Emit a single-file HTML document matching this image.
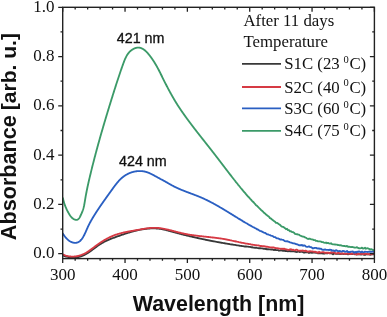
<!DOCTYPE html>
<html><head><meta charset="utf-8"><style>
html,body{margin:0;padding:0;background:#fff;width:387px;height:317px;overflow:hidden}
svg{display:block;will-change:transform}
text{fill:#111;stroke:#111;stroke-width:0}
.tl{font-family:"Liberation Serif",serif;font-size:17px}
.at{font-family:"Liberation Sans",sans-serif;font-weight:bold;font-size:21.4px}
.an{font-family:"Liberation Sans",sans-serif;font-size:14.3px;stroke-width:0.3px}
.lg{font-family:"Liberation Serif",serif;font-size:16.8px}
.sup{font-family:"Liberation Serif",serif;font-size:10.5px}
</style></head><body>
<svg width="387" height="317" viewBox="0 0 387 317">
<rect x="0" y="0" width="387" height="317" fill="#fff"/>
<defs><clipPath id="c"><rect x="62.7" y="7.3" width="311.7" height="251.3"/></clipPath></defs>
<g clip-path="url(#c)" fill="none" stroke-width="1.85" stroke-linejoin="round" stroke-linecap="round">
<path d="M62.75,255.36 L63.37,255.62 L63.98,255.86 L64.60,256.09 L65.23,256.30 L65.86,256.49 L66.49,256.67 L67.12,256.83 L67.76,256.97 L68.40,257.10 L69.04,257.22 L69.68,257.31 L70.32,257.40 L70.97,257.46 L71.61,257.51 L72.25,257.54 L72.90,257.56 L73.54,257.56 L74.18,257.55 L74.82,257.52 L75.45,257.47 L76.09,257.41 L76.72,257.33 L77.34,257.23 L77.97,257.12 L78.59,257.00 L79.20,256.85 L79.81,256.69 L80.42,256.52 L81.02,256.32 L81.61,256.11 L82.20,255.89 L82.78,255.65 L83.35,255.40 L83.93,255.13 L84.49,254.85 L85.06,254.56 L85.61,254.26 L86.17,253.95 L86.72,253.62 L87.27,253.29 L87.81,252.95 L88.35,252.60 L88.89,252.25 L89.43,251.88 L89.96,251.51 L90.49,251.14 L91.02,250.76 L91.55,250.38 L92.08,249.99 L92.61,249.61 L93.13,249.22 L93.66,248.82 L94.18,248.43 L94.71,248.04 L95.23,247.65 L95.76,247.26 L96.29,246.88 L96.82,246.49 L97.34,246.11 L97.88,245.73 L98.41,245.36 L98.94,245.00 L99.48,244.64 L100.02,244.29 L100.56,243.94 L101.11,243.61 L101.65,243.28 L102.20,242.96 L102.76,242.65 L103.32,242.34 L103.88,242.04 L104.44,241.75 L105.00,241.47 L105.57,241.19 L106.14,240.92 L106.72,240.65 L107.29,240.39 L107.87,240.14 L108.45,239.89 L109.03,239.64 L109.61,239.40 L110.20,239.16 L110.79,238.92 L111.38,238.69 L111.97,238.46 L112.57,238.23 L113.16,238.00 L113.76,237.78 L114.36,237.56 L114.96,237.34 L115.56,237.12 L116.16,236.89 L116.77,236.68 L117.38,236.46 L117.98,236.24 L118.59,236.02 L119.20,235.80 L119.81,235.58 L120.42,235.37 L121.04,235.16 L121.65,234.94 L122.27,234.73 L122.88,234.52 L123.50,234.31 L124.12,234.10 L124.74,233.90 L125.36,233.70 L125.98,233.49 L126.60,233.29 L127.23,233.10 L127.85,232.90 L128.47,232.71 L129.10,232.52 L129.73,232.33 L130.35,232.15 L130.98,231.97 L131.61,231.79 L132.24,231.62 L132.87,231.45 L133.49,231.28 L134.12,231.11 L134.76,230.95 L135.39,230.79 L136.02,230.64 L136.65,230.49 L137.28,230.35 L137.91,230.20 L138.55,230.07 L139.18,229.93 L139.81,229.81 L140.44,229.68 L141.08,229.57 L141.71,229.45 L142.35,229.34 L142.98,229.24 L143.61,229.14 L144.25,229.05 L144.88,228.96 L145.51,228.88 L146.15,228.80 L146.78,228.73 L147.41,228.67 L148.05,228.61 L148.68,228.55 L149.31,228.51 L149.94,228.47 L150.58,228.44 L151.21,228.41 L151.84,228.39 L152.47,228.38 L153.10,228.37 L153.73,228.37 L154.36,228.38 L154.99,228.40 L155.62,228.42 L156.25,228.46 L156.88,228.50 L157.51,228.54 L158.14,228.60 L158.76,228.66 L159.39,228.74 L160.02,228.82 L160.64,228.91 L161.27,229.01 L161.89,229.12 L162.52,229.23 L163.14,229.36 L163.76,229.49 L164.38,229.63 L165.01,229.78 L165.63,229.93 L166.25,230.09 L166.87,230.25 L167.49,230.42 L168.11,230.58 L168.73,230.76 L169.35,230.93 L169.97,231.10 L170.59,231.27 L171.22,231.45 L171.84,231.62 L172.46,231.79 L173.08,231.96 L173.70,232.13 L174.32,232.30 L174.94,232.47 L175.57,232.64 L176.19,232.80 L176.81,232.97 L177.43,233.13 L178.06,233.30 L178.68,233.46 L179.30,233.62 L179.93,233.78 L180.55,233.94 L181.17,234.10 L181.80,234.26 L182.42,234.42 L183.05,234.58 L183.67,234.73 L184.29,234.89 L184.92,235.04 L185.54,235.20 L186.17,235.35 L186.79,235.50 L187.42,235.66 L188.04,235.81 L188.67,235.96 L189.30,236.11 L189.92,236.26 L190.55,236.40 L191.17,236.55 L191.80,236.70 L192.43,236.84 L193.05,236.99 L193.68,237.13 L194.31,237.27 L194.93,237.42 L195.56,237.56 L196.19,237.70 L196.81,237.84 L197.44,237.98 L198.07,238.12 L198.70,238.25 L199.33,238.39 L199.95,238.53 L200.58,238.66 L201.21,238.80 L201.84,238.93 L202.47,239.07 L203.10,239.20 L203.73,239.33 L204.36,239.46 L204.98,239.59 L205.61,239.72 L206.24,239.85 L206.87,239.98 L207.50,240.11 L208.13,240.23 L208.76,240.36 L209.39,240.48 L210.02,240.61 L210.65,240.73 L211.29,240.86 L211.92,240.98 L212.55,241.10 L213.18,241.22 L213.81,241.34 L214.44,241.46 L215.07,241.58 L215.70,241.70 L216.33,241.82 L216.97,241.93 L217.60,242.05 L218.23,242.16 L218.86,242.28 L219.49,242.39 L220.13,242.51 L220.76,242.62 L221.39,242.73 L222.02,242.84 L222.66,242.95 L223.29,243.06 L223.92,243.17 L224.56,243.28 L225.19,243.39 L225.82,243.50 L226.46,243.60 L227.09,243.71 L227.72,243.81 L228.36,243.92 L228.99,244.02 L229.63,244.13 L230.00,244.23 L231.00,244.35 L232.00,244.50 L233.00,244.65 L234.00,244.81 L235.00,244.95 L236.00,245.13 L237.00,245.32 L238.00,245.41 L239.00,245.55 L240.00,245.74 L241.00,245.88 L242.00,246.01 L243.00,246.10 L244.00,246.29 L245.00,246.47 L246.00,246.47 L247.00,246.67 L248.00,246.69 L249.00,246.86 L250.00,246.94 L251.00,247.21 L252.00,247.23 L253.00,247.51 L254.00,247.62 L255.00,247.71 L256.00,247.57 L257.00,247.91 L258.00,248.09 L259.00,248.23 L260.00,248.13 L261.00,248.38 L262.00,248.42 L263.00,248.55 L264.00,248.94 L265.00,248.77 L266.00,248.99 L267.00,249.25 L268.00,249.11 L269.00,249.30 L270.00,249.44 L271.00,249.53 L272.00,249.39 L273.00,249.73 L274.00,250.08 L275.00,249.61 L276.00,250.18 L277.00,250.13 L278.00,250.06 L279.00,250.71 L280.00,250.54 L281.00,250.20 L282.00,250.57 L283.00,250.77 L284.00,250.68 L285.00,250.97 L286.00,250.87 L287.00,251.14 L288.00,251.42 L289.00,250.96 L290.00,251.26 L291.00,251.16 L292.00,251.40 L293.00,251.11 L294.00,251.35 L295.00,251.53 L296.00,251.92 L297.00,252.06 L298.00,251.40 L299.00,251.63 L300.00,252.13 L301.00,251.38 L302.00,251.92 L303.00,252.10 L304.00,252.60 L305.00,252.48 L306.00,252.21 L307.00,252.25 L308.00,252.35 L309.00,253.02 L310.00,252.40 L311.00,252.50 L312.00,252.78 L313.00,252.67 L314.00,252.70 L315.00,252.43 L316.00,252.87 L317.00,252.76 L318.00,253.38 L319.00,253.25 L320.00,253.06 L321.00,253.35 L322.00,253.04 L323.00,253.57 L324.00,253.24 L325.00,253.49 L326.00,252.88 L327.00,253.49 L328.00,252.82 L329.00,252.74 L330.00,253.39 L331.00,253.22 L332.00,253.62 L333.00,254.39 L334.00,253.35 L335.00,253.46 L336.00,253.78 L337.00,253.91 L338.00,253.71 L339.00,253.73 L340.00,254.08 L341.00,254.05 L342.00,253.53 L343.00,253.90 L344.00,253.96 L345.00,253.61 L346.00,254.10 L347.00,253.73 L348.00,254.40 L349.00,254.15 L350.00,254.14 L351.00,253.92 L352.00,254.11 L353.00,253.47 L354.00,253.80 L355.00,254.34 L356.00,253.49 L357.00,254.55 L358.00,253.66 L359.00,254.55 L360.00,254.01 L361.00,254.59 L362.00,254.38 L363.00,253.82 L364.00,254.81 L365.00,254.89 L366.00,254.37 L367.00,254.31 L368.00,254.37 L369.00,254.09 L370.00,254.83 L371.00,254.27 L372.00,254.45 L373.00,254.20 L374.00,254.27 L375.00,254.04" stroke="#383838"/>
<path d="M62.75,254.42 L63.38,254.70 L64.00,254.95 L64.63,255.19 L65.27,255.41 L65.90,255.61 L66.53,255.78 L67.17,255.94 L67.80,256.09 L68.44,256.21 L69.08,256.31 L69.72,256.40 L70.35,256.47 L70.99,256.52 L71.63,256.55 L72.26,256.57 L72.90,256.57 L73.53,256.55 L74.16,256.52 L74.79,256.46 L75.42,256.40 L76.04,256.32 L76.67,256.22 L77.29,256.11 L77.91,255.98 L78.52,255.84 L79.14,255.68 L79.75,255.51 L80.35,255.32 L80.95,255.12 L81.55,254.91 L82.14,254.68 L82.73,254.44 L83.32,254.18 L83.90,253.92 L84.47,253.64 L85.04,253.34 L85.60,253.04 L86.16,252.72 L86.71,252.40 L87.26,252.06 L87.80,251.71 L88.34,251.36 L88.88,251.00 L89.41,250.63 L89.94,250.25 L90.47,249.87 L91.00,249.48 L91.52,249.09 L92.04,248.70 L92.56,248.31 L93.09,247.91 L93.61,247.52 L94.13,247.12 L94.65,246.72 L95.17,246.33 L95.70,245.94 L96.22,245.55 L96.75,245.17 L97.28,244.79 L97.81,244.41 L98.34,244.03 L98.87,243.66 L99.41,243.29 L99.95,242.93 L100.49,242.57 L101.03,242.21 L101.57,241.86 L102.11,241.51 L102.66,241.17 L103.21,240.83 L103.76,240.49 L104.31,240.16 L104.87,239.84 L105.42,239.52 L105.98,239.20 L106.54,238.89 L107.10,238.59 L107.67,238.29 L108.23,238.00 L108.80,237.71 L109.38,237.43 L109.95,237.15 L110.53,236.88 L111.10,236.62 L111.68,236.36 L112.27,236.11 L112.85,235.86 L113.44,235.62 L114.03,235.39 L114.63,235.17 L115.22,234.95 L115.82,234.74 L116.42,234.53 L117.02,234.34 L117.63,234.14 L118.24,233.96 L118.85,233.78 L119.46,233.60 L120.07,233.44 L120.69,233.27 L121.31,233.11 L121.92,232.96 L122.54,232.81 L123.17,232.66 L123.79,232.52 L124.42,232.38 L125.04,232.25 L125.67,232.11 L126.30,231.98 L126.93,231.86 L127.56,231.73 L128.19,231.61 L128.82,231.49 L129.45,231.37 L130.08,231.25 L130.72,231.14 L131.35,231.02 L131.98,230.91 L132.62,230.79 L133.25,230.68 L133.88,230.57 L134.52,230.45 L135.15,230.34 L135.79,230.23 L136.42,230.12 L137.06,230.01 L137.69,229.90 L138.33,229.79 L138.96,229.68 L139.60,229.57 L140.24,229.46 L140.87,229.34 L141.51,229.23 L142.14,229.12 L142.78,229.02 L143.41,228.91 L144.05,228.80 L144.69,228.70 L145.32,228.60 L145.96,228.51 L146.60,228.42 L147.23,228.33 L147.87,228.25 L148.51,228.18 L149.15,228.11 L149.79,228.04 L150.42,227.99 L151.06,227.94 L151.70,227.90 L152.34,227.86 L152.98,227.84 L153.62,227.82 L154.25,227.81 L154.89,227.82 L155.53,227.83 L156.17,227.85 L156.81,227.89 L157.44,227.93 L158.08,227.98 L158.72,228.04 L159.36,228.11 L159.99,228.19 L160.63,228.27 L161.26,228.36 L161.90,228.46 L162.53,228.57 L163.17,228.68 L163.80,228.79 L164.43,228.92 L165.06,229.04 L165.70,229.17 L166.33,229.31 L166.96,229.45 L167.58,229.59 L168.21,229.74 L168.84,229.89 L169.47,230.04 L170.09,230.20 L170.72,230.35 L171.35,230.51 L171.97,230.67 L172.60,230.83 L173.22,231.00 L173.84,231.16 L174.47,231.32 L175.09,231.49 L175.72,231.65 L176.34,231.81 L176.96,231.97 L177.59,232.14 L178.21,232.30 L178.83,232.45 L179.46,232.61 L180.08,232.76 L180.71,232.92 L181.33,233.07 L181.96,233.21 L182.59,233.36 L183.21,233.50 L183.84,233.63 L184.47,233.77 L185.10,233.89 L185.73,234.02 L186.36,234.14 L186.99,234.26 L187.62,234.37 L188.25,234.49 L188.88,234.59 L189.52,234.70 L190.15,234.80 L190.78,234.90 L191.42,235.00 L192.05,235.10 L192.69,235.19 L193.32,235.28 L193.96,235.37 L194.59,235.45 L195.23,235.54 L195.87,235.62 L196.50,235.70 L197.14,235.78 L197.78,235.86 L198.41,235.93 L199.05,236.01 L199.69,236.08 L200.33,236.15 L200.97,236.22 L201.61,236.29 L202.24,236.36 L202.88,236.43 L203.52,236.50 L204.16,236.57 L204.80,236.64 L205.44,236.70 L206.08,236.77 L206.72,236.84 L207.36,236.90 L208.00,236.97 L208.64,237.04 L209.27,237.11 L209.91,237.18 L210.55,237.24 L211.19,237.31 L211.83,237.38 L212.47,237.46 L213.11,237.53 L213.75,237.60 L214.38,237.68 L215.02,237.75 L215.66,237.83 L216.30,237.91 L216.93,237.99 L217.57,238.07 L218.21,238.16 L218.84,238.24 L219.48,238.33 L220.11,238.42 L220.75,238.52 L221.38,238.61 L222.02,238.71 L222.65,238.81 L223.29,238.92 L223.92,239.02 L224.55,239.13 L225.18,239.24 L225.82,239.36 L226.45,239.48 L227.08,239.60 L227.71,239.72 L228.34,239.85 L228.97,239.98 L229.60,240.11 L230.00,240.24 L231.00,240.40 L232.00,240.63 L233.00,240.83 L234.00,241.04 L235.00,241.26 L236.00,241.48 L237.00,241.71 L238.00,241.91 L239.00,242.13 L240.00,242.29 L241.00,242.52 L242.00,242.84 L243.00,242.92 L244.00,243.08 L245.00,243.36 L246.00,243.62 L247.00,243.59 L248.00,243.86 L249.00,244.00 L250.00,244.07 L251.00,244.46 L252.00,244.55 L253.00,244.72 L254.00,244.80 L255.00,245.08 L256.00,245.13 L257.00,245.32 L258.00,245.35 L259.00,245.48 L260.00,245.96 L261.00,245.86 L262.00,246.11 L263.00,246.21 L264.00,246.29 L265.00,246.42 L266.00,246.74 L267.00,246.73 L268.00,246.89 L269.00,247.05 L270.00,247.39 L271.00,247.44 L272.00,247.52 L273.00,247.47 L274.00,247.44 L275.00,248.02 L276.00,248.16 L277.00,248.06 L278.00,248.33 L279.00,248.51 L280.00,248.64 L281.00,248.79 L282.00,248.60 L283.00,249.17 L284.00,248.64 L285.00,249.26 L286.00,249.29 L287.00,249.50 L288.00,249.87 L289.00,249.89 L290.00,249.32 L291.00,249.27 L292.00,250.05 L293.00,249.66 L294.00,250.04 L295.00,250.39 L296.00,249.77 L297.00,249.73 L298.00,250.53 L299.00,250.56 L300.00,250.57 L301.00,250.75 L302.00,250.56 L303.00,250.45 L304.00,250.97 L305.00,250.79 L306.00,250.65 L307.00,251.46 L308.00,251.35 L309.00,251.60 L310.00,251.20 L311.00,251.40 L312.00,251.36 L313.00,251.48 L314.00,251.93 L315.00,251.67 L316.00,252.14 L317.00,252.21 L318.00,252.87 L319.00,251.75 L320.00,252.62 L321.00,252.34 L322.00,252.44 L323.00,252.00 L324.00,252.41 L325.00,252.90 L326.00,252.67 L327.00,252.79 L328.00,252.72 L329.00,253.28 L330.00,252.92 L331.00,252.22 L332.00,252.80 L333.00,252.40 L334.00,252.00 L335.00,253.00 L336.00,253.70 L337.00,253.30 L338.00,252.92 L339.00,253.04 L340.00,253.81 L341.00,253.51 L342.00,253.51 L343.00,253.51 L344.00,253.57 L345.00,253.88 L346.00,253.82 L347.00,253.73 L348.00,253.32 L349.00,253.89 L350.00,253.50 L351.00,254.15 L352.00,253.34 L353.00,253.76 L354.00,253.83 L355.00,253.38 L356.00,254.47 L357.00,254.39 L358.00,253.73 L359.00,254.18 L360.00,254.05 L361.00,253.01 L362.00,254.02 L363.00,253.92 L364.00,253.97 L365.00,253.57 L366.00,253.85 L367.00,253.88 L368.00,254.36 L369.00,254.06 L370.00,253.93 L371.00,254.46 L372.00,253.72 L373.00,253.77 L374.00,253.26 L375.00,254.44" stroke="#d63a44"/>
<path d="M62.50,233.67 L62.75,233.67 L63.00,233.74 L63.25,234.15 L63.50,234.54 L63.75,234.92 L64.00,235.29 L64.25,235.65 L64.50,236.00 L64.75,236.33 L65.00,236.66 L65.25,236.97 L65.50,237.28 L65.75,237.58 L66.00,237.87 L66.25,238.15 L66.50,238.42 L66.75,238.68 L67.00,238.93 L67.25,239.18 L67.50,239.41 L67.75,239.64 L68.00,239.86 L68.25,240.07 L68.50,240.27 L68.75,240.47 L69.00,240.65 L69.25,240.83 L69.50,241.00 L69.75,241.16 L70.00,241.31 L70.25,241.45 L70.50,241.59 L70.75,241.72 L71.00,241.84 L71.25,241.95 L71.50,242.06 L71.75,242.16 L72.00,242.26 L72.25,242.34 L72.50,242.42 L72.75,242.50 L73.00,242.56 L73.25,242.62 L73.50,242.68 L73.75,242.72 L74.00,242.76 L74.25,242.80 L74.50,242.82 L74.75,242.84 L75.00,242.85 L75.25,242.86 L75.50,242.85 L75.75,242.84 L76.00,242.82 L76.25,242.78 L76.50,242.74 L76.75,242.69 L77.00,242.63 L77.25,242.56 L77.50,242.48 L77.75,242.38 L78.00,242.28 L78.25,242.16 L78.50,242.03 L78.75,241.89 L79.00,241.73 L79.25,241.57 L79.50,241.38 L79.75,241.19 L80.00,240.98 L80.25,240.75 L80.50,240.51 L80.75,240.26 L81.00,239.99 L81.25,239.70 L81.50,239.40 L81.75,239.08 L82.00,238.74 L82.25,238.39 L82.50,238.02 L82.75,237.64 L83.00,237.23 L83.25,236.81 L83.50,236.38 L83.75,235.92 L84.00,235.45 L84.25,234.97 L84.50,234.47 L84.75,233.95 L85.00,233.43 L85.25,232.89 L85.50,232.34 L85.75,231.78 L86.00,231.21 L86.25,230.64 L86.50,230.07 L86.75,229.49 L87.00,228.92 L87.25,228.35 L87.50,227.78 L87.75,227.23 L88.00,226.68 L88.25,226.15 L88.50,225.62 L88.75,225.11 L89.00,224.61 L89.25,224.11 L89.50,223.62 L89.75,223.15 L90.00,222.67 L90.25,222.21 L90.50,221.75 L90.75,221.30 L91.00,220.85 L91.25,220.41 L91.50,219.97 L91.75,219.54 L92.00,219.11 L92.25,218.68 L92.50,218.25 L92.75,217.83 L93.00,217.42 L93.25,217.00 L93.50,216.59 L93.75,216.18 L94.00,215.77 L94.25,215.37 L94.50,214.96 L94.75,214.56 L95.00,214.17 L95.25,213.77 L95.50,213.38 L95.75,212.99 L96.00,212.60 L96.25,212.21 L96.50,211.82 L96.75,211.44 L97.00,211.05 L97.25,210.67 L97.50,210.29 L97.75,209.92 L98.00,209.54 L98.25,209.16 L98.50,208.79 L98.75,208.42 L99.00,208.05 L99.25,207.68 L99.50,207.31 L99.75,206.94 L100.00,206.57 L100.25,206.21 L100.50,205.84 L100.75,205.48 L101.00,205.12 L101.25,204.76 L101.50,204.40 L101.75,204.04 L102.00,203.68 L102.25,203.32 L102.50,202.96 L102.75,202.60 L103.00,202.25 L103.25,201.89 L103.50,201.54 L103.75,201.18 L104.00,200.83 L104.25,200.47 L104.50,200.12 L104.75,199.77 L105.00,199.42 L105.25,199.06 L105.50,198.71 L105.75,198.36 L106.00,198.01 L106.25,197.66 L106.50,197.31 L106.75,196.96 L107.00,196.61 L107.25,196.26 L107.50,195.91 L107.75,195.57 L108.00,195.22 L108.25,194.87 L108.50,194.52 L108.75,194.17 L109.00,193.82 L109.25,193.47 L109.50,193.13 L109.75,192.78 L110.00,192.43 L110.25,192.08 L110.50,191.73 L110.75,191.38 L111.00,191.03 L111.25,190.69 L111.50,190.34 L111.75,189.99 L112.00,189.64 L112.25,189.29 L112.50,188.94 L112.75,188.59 L113.00,188.25 L113.25,187.90 L113.50,187.56 L113.75,187.21 L114.00,186.87 L114.25,186.53 L114.50,186.20 L114.75,185.86 L115.00,185.53 L115.25,185.20 L115.50,184.88 L115.75,184.55 L116.00,184.24 L116.25,183.92 L116.50,183.61 L116.75,183.30 L117.00,182.99 L117.25,182.69 L117.50,182.39 L117.75,182.10 L118.00,181.81 L118.25,181.53 L118.50,181.25 L118.75,180.97 L119.00,180.70 L119.25,180.43 L119.50,180.17 L119.75,179.91 L120.00,179.66 L120.25,179.41 L120.50,179.16 L120.75,178.92 L121.00,178.69 L121.25,178.46 L121.50,178.23 L121.75,178.01 L122.00,177.79 L122.25,177.58 L122.50,177.37 L122.75,177.16 L123.00,176.96 L123.25,176.77 L123.50,176.58 L123.75,176.39 L124.00,176.21 L124.25,176.03 L124.50,175.85 L124.75,175.68 L125.00,175.52 L125.25,175.36 L125.50,175.20 L125.75,175.04 L126.00,174.89 L126.25,174.75 L126.50,174.60 L126.75,174.46 L127.00,174.33 L127.25,174.19 L127.50,174.06 L127.75,173.94 L128.00,173.81 L128.25,173.69 L128.50,173.58 L128.75,173.46 L129.00,173.35 L129.25,173.24 L129.50,173.14 L129.75,173.04 L130.00,172.94 L130.25,172.84 L130.50,172.75 L130.75,172.66 L131.00,172.57 L131.25,172.48 L131.50,172.40 L131.75,172.32 L132.00,172.24 L132.25,172.16 L132.50,172.09 L132.75,172.02 L133.00,171.95 L133.25,171.89 L133.50,171.82 L133.75,171.76 L134.00,171.70 L134.25,171.65 L134.50,171.60 L134.75,171.55 L135.00,171.50 L135.25,171.45 L135.50,171.41 L135.75,171.37 L136.00,171.33 L136.25,171.29 L136.50,171.26 L136.75,171.23 L137.00,171.20 L137.25,171.17 L137.50,171.15 L137.75,171.13 L138.00,171.11 L138.25,171.09 L138.50,171.08 L138.75,171.07 L139.00,171.06 L139.25,171.05 L139.50,171.05 L139.75,171.05 L140.00,171.05 L140.25,171.05 L140.50,171.06 L140.75,171.07 L141.00,171.08 L141.25,171.09 L141.50,171.11 L141.75,171.13 L142.00,171.15 L142.25,171.17 L142.50,171.20 L142.75,171.23 L143.00,171.26 L143.25,171.30 L143.50,171.34 L143.75,171.38 L144.00,171.43 L144.25,171.47 L144.50,171.52 L144.75,171.58 L145.00,171.63 L145.25,171.69 L145.50,171.76 L145.75,171.82 L146.00,171.89 L146.25,171.96 L146.50,172.04 L146.75,172.12 L147.00,172.20 L147.25,172.28 L147.50,172.37 L147.75,172.46 L148.00,172.55 L148.25,172.65 L148.50,172.75 L148.75,172.85 L149.00,172.95 L149.25,173.06 L149.50,173.17 L149.75,173.28 L150.00,173.40 L150.25,173.51 L150.50,173.63 L150.75,173.75 L151.00,173.87 L151.25,173.99 L151.50,174.12 L151.75,174.24 L152.00,174.37 L152.25,174.50 L152.50,174.63 L152.75,174.76 L153.00,174.89 L153.25,175.02 L153.50,175.15 L153.75,175.29 L154.00,175.42 L154.25,175.56 L154.50,175.69 L154.75,175.83 L155.00,175.96 L155.25,176.10 L155.50,176.24 L155.75,176.37 L156.00,176.51 L156.25,176.65 L156.50,176.79 L156.75,176.92 L157.00,177.06 L157.25,177.20 L157.50,177.33 L157.75,177.47 L158.00,177.61 L158.25,177.74 L158.50,177.88 L158.75,178.02 L159.00,178.15 L159.25,178.29 L159.50,178.42 L159.75,178.56 L160.00,178.69 L160.25,178.83 L160.50,178.96 L160.75,179.10 L161.00,179.23 L161.25,179.37 L161.50,179.50 L161.75,179.63 L162.00,179.77 L162.25,179.90 L162.50,180.04 L162.75,180.17 L163.00,180.31 L163.25,180.44 L163.50,180.58 L163.75,180.72 L164.00,180.85 L164.25,180.99 L164.50,181.13 L164.75,181.27 L165.00,181.40 L165.25,181.54 L165.50,181.68 L165.75,181.82 L166.00,181.97 L166.25,182.11 L166.50,182.25 L166.75,182.39 L167.00,182.54 L167.25,182.68 L167.50,182.82 L167.75,182.97 L168.00,183.11 L168.25,183.25 L168.50,183.40 L168.75,183.54 L169.00,183.69 L169.25,183.83 L169.50,183.97 L169.75,184.12 L170.00,184.26 L170.25,184.40 L170.50,184.54 L170.75,184.68 L171.00,184.82 L171.25,184.96 L171.50,185.10 L171.75,185.24 L172.00,185.38 L172.25,185.51 L172.50,185.65 L172.75,185.78 L173.00,185.91 L173.25,186.05 L173.50,186.18 L173.75,186.31 L174.00,186.44 L174.25,186.56 L174.50,186.69 L174.75,186.81 L175.00,186.94 L175.25,187.06 L175.50,187.18 L175.75,187.30 L176.00,187.42 L176.25,187.54 L176.50,187.66 L176.75,187.78 L177.00,187.89 L177.25,188.01 L177.50,188.12 L177.75,188.24 L178.00,188.35 L178.25,188.46 L178.50,188.57 L178.75,188.68 L179.00,188.79 L179.25,188.90 L179.50,189.01 L179.75,189.12 L180.00,189.22 L180.25,189.33 L180.50,189.44 L180.75,189.54 L181.00,189.65 L181.25,189.75 L181.50,189.85 L181.75,189.96 L182.00,190.06 L182.25,190.16 L182.50,190.26 L182.75,190.36 L183.00,190.46 L183.25,190.56 L183.50,190.66 L183.75,190.76 L184.00,190.86 L184.25,190.96 L184.50,191.06 L184.75,191.15 L185.00,191.25 L185.25,191.35 L185.50,191.44 L185.75,191.54 L186.00,191.63 L186.25,191.73 L186.50,191.82 L186.75,191.92 L187.00,192.01 L187.25,192.11 L187.50,192.20 L187.75,192.30 L188.00,192.39 L188.25,192.48 L188.50,192.58 L188.75,192.67 L189.00,192.76 L189.25,192.86 L189.50,192.95 L189.75,193.04 L190.00,193.14 L190.25,193.23 L190.50,193.32 L190.75,193.42 L191.00,193.51 L191.25,193.60 L191.50,193.70 L191.75,193.79 L192.00,193.88 L192.25,193.98 L192.50,194.07 L192.75,194.16 L193.00,194.26 L193.25,194.35 L193.50,194.44 L193.75,194.54 L194.00,194.63 L194.25,194.73 L194.50,194.82 L194.75,194.92 L195.00,195.01 L195.25,195.11 L195.50,195.21 L195.75,195.30 L196.00,195.40 L196.25,195.50 L196.50,195.59 L196.75,195.69 L197.00,195.79 L197.25,195.89 L197.50,195.99 L197.75,196.09 L198.00,196.19 L198.25,196.29 L198.50,196.39 L198.75,196.49 L199.00,196.59 L199.25,196.70 L199.50,196.80 L199.75,196.90 L200.00,197.01 L200.25,197.11 L200.50,197.22 L200.75,197.32 L201.00,197.43 L201.25,197.54 L201.50,197.65 L201.75,197.76 L202.00,197.87 L202.25,197.98 L202.50,198.09 L202.75,198.20 L203.00,198.31 L203.25,198.42 L203.50,198.54 L203.75,198.65 L204.00,198.77 L204.25,198.88 L204.50,199.00 L204.75,199.12 L205.00,199.23 L205.25,199.35 L205.50,199.47 L205.75,199.59 L206.00,199.71 L206.25,199.83 L206.50,199.95 L206.75,200.07 L207.00,200.19 L207.25,200.32 L207.50,200.44 L207.75,200.56 L208.00,200.69 L208.25,200.81 L208.50,200.94 L208.75,201.06 L209.00,201.19 L209.25,201.32 L209.50,201.45 L209.75,201.57 L210.00,201.70 L210.25,201.83 L210.50,201.96 L210.75,202.09 L211.00,202.22 L211.25,202.36 L211.50,202.49 L211.75,202.62 L212.00,202.75 L212.25,202.89 L212.50,203.02 L212.75,203.15 L213.00,203.29 L213.25,203.42 L213.50,203.56 L213.75,203.70 L214.00,203.83 L214.25,203.97 L214.50,204.11 L214.75,204.24 L215.00,204.38 L215.25,204.52 L215.50,204.66 L215.75,204.80 L216.00,204.94 L216.25,205.08 L216.50,205.22 L216.75,205.36 L217.00,205.50 L217.25,205.65 L217.50,205.79 L217.75,205.93 L218.00,206.07 L218.25,206.22 L218.50,206.36 L218.75,206.51 L219.00,206.65 L219.25,206.79 L219.50,206.94 L219.75,207.09 L220.00,207.23 L220.25,207.38 L220.50,207.52 L220.75,207.67 L221.00,207.82 L221.25,207.97 L221.50,208.11 L221.75,208.26 L222.00,208.41 L222.25,208.56 L222.50,208.71 L222.75,208.85 L223.00,209.00 L223.25,209.15 L223.50,209.30 L223.75,209.45 L224.00,209.60 L224.25,209.75 L224.50,209.90 L224.75,210.06 L225.00,210.21 L225.25,210.36 L225.50,210.51 L225.75,210.66 L226.00,210.81 L226.25,210.96 L226.50,211.12 L226.75,211.27 L227.00,211.42 L227.25,211.57 L227.50,211.73 L227.75,211.88 L228.00,212.03 L228.25,212.19 L228.50,212.34 L228.75,212.49 L229.00,212.65 L229.25,212.80 L229.50,212.95 L229.75,213.11 L230.00,213.26 L231.00,213.88 L232.00,214.50 L233.00,215.12 L234.00,215.74 L235.00,216.34 L236.00,216.96 L237.00,217.59 L238.00,218.25 L239.00,218.83 L240.00,219.42 L241.00,220.00 L242.00,220.61 L243.00,221.33 L244.00,221.87 L245.00,222.44 L246.00,223.00 L247.00,223.53 L248.00,224.19 L249.00,224.84 L250.00,225.31 L251.00,225.88 L252.00,226.44 L253.00,227.03 L254.00,227.39 L255.00,228.07 L256.00,228.53 L257.00,229.25 L258.00,229.57 L259.00,230.24 L260.00,230.87 L261.00,231.11 L262.00,231.56 L263.00,232.14 L264.00,232.58 L265.00,232.89 L266.00,233.56 L267.00,234.26 L268.00,234.33 L269.00,234.77 L270.00,235.04 L271.00,235.70 L272.00,235.82 L273.00,236.24 L274.00,237.09 L275.00,237.06 L276.00,237.84 L277.00,238.31 L278.00,238.42 L279.00,238.85 L280.00,239.51 L281.00,239.39 L282.00,239.64 L283.00,239.80 L284.00,240.46 L285.00,241.13 L286.00,241.33 L287.00,241.18 L288.00,241.50 L289.00,241.89 L290.00,242.40 L291.00,242.56 L292.00,242.96 L293.00,243.26 L294.00,243.37 L295.00,243.71 L296.00,244.05 L297.00,244.23 L298.00,244.65 L299.00,245.32 L300.00,245.18 L301.00,245.26 L302.00,244.94 L303.00,245.83 L304.00,245.30 L305.00,245.69 L306.00,246.65 L307.00,246.81 L308.00,246.73 L309.00,246.39 L310.00,247.05 L311.00,247.13 L312.00,247.78 L313.00,248.53 L314.00,247.99 L315.00,247.82 L316.00,247.85 L317.00,248.41 L318.00,248.53 L319.00,248.34 L320.00,248.94 L321.00,248.65 L322.00,249.58 L323.00,249.71 L324.00,249.85 L325.00,249.44 L326.00,249.91 L327.00,249.81 L328.00,249.84 L329.00,249.98 L330.00,249.75 L331.00,249.81 L332.00,250.70 L333.00,250.46 L334.00,250.70 L335.00,251.07 L336.00,250.20 L337.00,250.62 L338.00,251.04 L339.00,251.20 L340.00,251.01 L341.00,251.57 L342.00,251.36 L343.00,250.92 L344.00,251.09 L345.00,251.75 L346.00,251.69 L347.00,250.92 L348.00,252.10 L349.00,251.89 L350.00,252.19 L351.00,251.63 L352.00,251.69 L353.00,251.44 L354.00,252.75 L355.00,251.83 L356.00,252.47 L357.00,251.71 L358.00,252.01 L359.00,251.38 L360.00,251.85 L361.00,252.33 L362.00,251.56 L363.00,252.38 L364.00,252.12 L365.00,251.63 L366.00,251.82 L367.00,251.82 L368.00,251.96 L369.00,251.77 L370.00,251.66 L371.00,251.82 L372.00,251.54 L373.00,251.43 L374.00,251.84 L375.00,252.15" stroke="#2a5fc2"/>
<path d="M62.50,197.94 L62.75,197.94 L63.00,198.64 L63.25,199.69 L63.50,200.66 L63.75,201.58 L64.00,202.44 L64.25,203.25 L64.50,204.01 L64.75,204.74 L65.00,205.43 L65.25,206.09 L65.50,206.72 L65.75,207.33 L66.00,207.91 L66.25,208.48 L66.50,209.02 L66.75,209.55 L67.00,210.07 L67.25,210.57 L67.50,211.06 L67.75,211.54 L68.00,212.01 L68.25,212.47 L68.50,212.92 L68.75,213.36 L69.00,213.79 L69.25,214.20 L69.50,214.60 L69.75,214.99 L70.00,215.36 L70.25,215.72 L70.50,216.06 L70.75,216.38 L71.00,216.69 L71.25,216.98 L71.50,217.26 L71.75,217.53 L72.00,217.77 L72.25,218.01 L72.50,218.22 L72.75,218.43 L73.00,218.61 L73.25,218.79 L73.50,218.95 L73.75,219.10 L74.00,219.23 L74.25,219.35 L74.50,219.46 L74.75,219.56 L75.00,219.64 L75.25,219.71 L75.50,219.77 L75.75,219.82 L76.00,219.85 L76.25,219.86 L76.50,219.86 L76.75,219.84 L77.00,219.80 L77.25,219.74 L77.50,219.65 L77.75,219.52 L78.00,219.36 L78.25,219.17 L78.50,218.94 L78.75,218.67 L79.00,218.37 L79.25,218.02 L79.50,217.64 L79.75,217.22 L80.00,216.77 L80.25,216.28 L80.50,215.78 L80.75,215.26 L81.00,214.73 L81.25,214.18 L81.50,213.63 L81.75,213.06 L82.00,212.47 L82.25,211.85 L82.50,211.20 L82.75,210.52 L83.00,209.78 L83.25,208.98 L83.50,208.10 L83.75,207.11 L84.00,205.99 L84.25,204.74 L84.50,203.34 L84.75,201.84 L85.00,200.29 L85.25,198.78 L85.50,197.33 L85.75,195.93 L86.00,194.57 L86.25,193.24 L86.50,191.95 L86.75,190.69 L87.00,189.46 L87.25,188.25 L87.50,187.06 L87.75,185.90 L88.00,184.75 L88.25,183.62 L88.50,182.50 L88.75,181.39 L89.00,180.30 L89.25,179.22 L89.50,178.15 L89.75,177.09 L90.00,176.04 L90.25,174.99 L90.50,173.95 L90.75,172.92 L91.00,171.89 L91.25,170.87 L91.50,169.86 L91.75,168.85 L92.00,167.84 L92.25,166.84 L92.50,165.85 L92.75,164.86 L93.00,163.87 L93.25,162.89 L93.50,161.91 L93.75,160.94 L94.00,159.97 L94.25,159.01 L94.50,158.05 L94.75,157.10 L95.00,156.15 L95.25,155.20 L95.50,154.26 L95.75,153.32 L96.00,152.38 L96.25,151.45 L96.50,150.52 L96.75,149.60 L97.00,148.68 L97.25,147.76 L97.50,146.84 L97.75,145.93 L98.00,145.02 L98.25,144.12 L98.50,143.22 L98.75,142.32 L99.00,141.42 L99.25,140.53 L99.50,139.63 L99.75,138.75 L100.00,137.86 L100.25,136.98 L100.50,136.10 L100.75,135.22 L101.00,134.34 L101.25,133.47 L101.50,132.60 L101.75,131.73 L102.00,130.87 L102.25,130.00 L102.50,129.14 L102.75,128.28 L103.00,127.43 L103.25,126.57 L103.50,125.72 L103.75,124.87 L104.00,124.02 L104.25,123.17 L104.50,122.33 L104.75,121.48 L105.00,120.64 L105.25,119.80 L105.50,118.97 L105.75,118.13 L106.00,117.30 L106.25,116.46 L106.50,115.63 L106.75,114.80 L107.00,113.98 L107.25,113.15 L107.50,112.33 L107.75,111.50 L108.00,110.68 L108.25,109.86 L108.50,109.05 L108.75,108.23 L109.00,107.41 L109.25,106.60 L109.50,105.79 L109.75,104.97 L110.00,104.16 L110.25,103.36 L110.50,102.55 L110.75,101.74 L111.00,100.94 L111.25,100.13 L111.50,99.33 L111.75,98.53 L112.00,97.73 L112.25,96.93 L112.50,96.13 L112.75,95.33 L113.00,94.54 L113.25,93.74 L113.50,92.95 L113.75,92.15 L114.00,91.36 L114.25,90.57 L114.50,89.78 L114.75,88.99 L115.00,88.21 L115.25,87.42 L115.50,86.64 L115.75,85.86 L116.00,85.08 L116.25,84.31 L116.50,83.53 L116.75,82.76 L117.00,81.99 L117.25,81.23 L117.50,80.46 L117.75,79.70 L118.00,78.94 L118.25,78.19 L118.50,77.43 L118.75,76.68 L119.00,75.94 L119.25,75.19 L119.50,74.45 L119.75,73.71 L120.00,72.98 L120.25,72.24 L120.50,71.51 L120.75,70.79 L121.00,70.07 L121.25,69.35 L121.50,68.63 L121.75,67.92 L122.00,67.21 L122.25,66.50 L122.50,65.80 L122.75,65.10 L123.00,64.40 L123.25,63.71 L123.50,63.02 L123.75,62.34 L124.00,61.67 L124.25,61.02 L124.50,60.39 L124.75,59.77 L125.00,59.18 L125.25,58.61 L125.50,58.07 L125.75,57.54 L126.00,57.04 L126.25,56.56 L126.50,56.10 L126.75,55.66 L127.00,55.24 L127.25,54.84 L127.50,54.46 L127.75,54.10 L128.00,53.75 L128.25,53.41 L128.50,53.09 L128.75,52.79 L129.00,52.50 L129.25,52.22 L129.50,51.95 L129.75,51.69 L130.00,51.45 L130.25,51.21 L130.50,50.99 L130.75,50.77 L131.00,50.57 L131.25,50.37 L131.50,50.18 L131.75,49.99 L132.00,49.82 L132.25,49.65 L132.50,49.49 L132.75,49.34 L133.00,49.19 L133.25,49.05 L133.50,48.92 L133.75,48.79 L134.00,48.67 L134.25,48.55 L134.50,48.44 L134.75,48.34 L135.00,48.24 L135.25,48.15 L135.50,48.06 L135.75,47.98 L136.00,47.91 L136.25,47.85 L136.50,47.79 L136.75,47.74 L137.00,47.69 L137.25,47.66 L137.50,47.63 L137.75,47.61 L138.00,47.59 L138.25,47.59 L138.50,47.59 L138.75,47.60 L139.00,47.62 L139.25,47.65 L139.50,47.69 L139.75,47.73 L140.00,47.78 L140.25,47.84 L140.50,47.91 L140.75,47.99 L141.00,48.07 L141.25,48.17 L141.50,48.27 L141.75,48.38 L142.00,48.49 L142.25,48.62 L142.50,48.75 L142.75,48.89 L143.00,49.04 L143.25,49.19 L143.50,49.36 L143.75,49.53 L144.00,49.71 L144.25,49.89 L144.50,50.08 L144.75,50.28 L145.00,50.49 L145.25,50.71 L145.50,50.93 L145.75,51.16 L146.00,51.39 L146.25,51.63 L146.50,51.88 L146.75,52.14 L147.00,52.40 L147.25,52.67 L147.50,52.94 L147.75,53.22 L148.00,53.51 L148.25,53.80 L148.50,54.10 L148.75,54.40 L149.00,54.71 L149.25,55.02 L149.50,55.33 L149.75,55.65 L150.00,55.98 L150.25,56.31 L150.50,56.64 L150.75,56.98 L151.00,57.32 L151.25,57.66 L151.50,58.01 L151.75,58.36 L152.00,58.72 L152.25,59.08 L152.50,59.44 L152.75,59.81 L153.00,60.18 L153.25,60.56 L153.50,60.94 L153.75,61.33 L154.00,61.72 L154.25,62.11 L154.50,62.51 L154.75,62.91 L155.00,63.32 L155.25,63.74 L155.50,64.15 L155.75,64.58 L156.00,65.00 L156.25,65.43 L156.50,65.87 L156.75,66.31 L157.00,66.76 L157.25,67.21 L157.50,67.66 L157.75,68.12 L158.00,68.59 L158.25,69.06 L158.50,69.53 L158.75,70.01 L159.00,70.49 L159.25,70.98 L159.50,71.47 L159.75,71.96 L160.00,72.46 L160.25,72.96 L160.50,73.47 L160.75,73.97 L161.00,74.48 L161.25,74.99 L161.50,75.50 L161.75,76.01 L162.00,76.52 L162.25,77.04 L162.50,77.55 L162.75,78.06 L163.00,78.57 L163.25,79.07 L163.50,79.58 L163.75,80.08 L164.00,80.58 L164.25,81.08 L164.50,81.58 L164.75,82.07 L165.00,82.57 L165.25,83.06 L165.50,83.55 L165.75,84.04 L166.00,84.53 L166.25,85.01 L166.50,85.50 L166.75,85.98 L167.00,86.46 L167.25,86.94 L167.50,87.42 L167.75,87.89 L168.00,88.37 L168.25,88.84 L168.50,89.31 L168.75,89.78 L169.00,90.24 L169.25,90.71 L169.50,91.17 L169.75,91.63 L170.00,92.09 L170.25,92.55 L170.50,93.01 L170.75,93.46 L171.00,93.91 L171.25,94.36 L171.50,94.81 L171.75,95.25 L172.00,95.70 L172.25,96.14 L172.50,96.58 L172.75,97.01 L173.00,97.45 L173.25,97.88 L173.50,98.31 L173.75,98.74 L174.00,99.17 L174.25,99.59 L174.50,100.01 L174.75,100.43 L175.00,100.85 L175.25,101.26 L175.50,101.67 L175.75,102.08 L176.00,102.49 L176.25,102.90 L176.50,103.30 L176.75,103.70 L177.00,104.10 L177.25,104.49 L177.50,104.89 L177.75,105.28 L178.00,105.67 L178.25,106.05 L178.50,106.44 L178.75,106.82 L179.00,107.20 L179.25,107.58 L179.50,107.96 L179.75,108.33 L180.00,108.70 L180.25,109.08 L180.50,109.45 L180.75,109.81 L181.00,110.18 L181.25,110.55 L181.50,110.91 L181.75,111.28 L182.00,111.64 L182.25,112.00 L182.50,112.36 L182.75,112.72 L183.00,113.08 L183.25,113.43 L183.50,113.79 L183.75,114.14 L184.00,114.50 L184.25,114.85 L184.50,115.20 L184.75,115.55 L185.00,115.90 L185.25,116.25 L185.50,116.60 L185.75,116.94 L186.00,117.29 L186.25,117.63 L186.50,117.98 L186.75,118.32 L187.00,118.67 L187.25,119.01 L187.50,119.35 L187.75,119.69 L188.00,120.03 L188.25,120.37 L188.50,120.71 L188.75,121.04 L189.00,121.38 L189.25,121.72 L189.50,122.05 L189.75,122.39 L190.00,122.72 L190.25,123.05 L190.50,123.39 L190.75,123.72 L191.00,124.05 L191.25,124.38 L191.50,124.71 L191.75,125.04 L192.00,125.37 L192.25,125.70 L192.50,126.03 L192.75,126.36 L193.00,126.68 L193.25,127.01 L193.50,127.34 L193.75,127.66 L194.00,127.99 L194.25,128.31 L194.50,128.64 L194.75,128.96 L195.00,129.29 L195.25,129.61 L195.50,129.93 L195.75,130.26 L196.00,130.58 L196.25,130.90 L196.50,131.22 L196.75,131.54 L197.00,131.86 L197.25,132.19 L197.50,132.51 L197.75,132.83 L198.00,133.15 L198.25,133.47 L198.50,133.79 L198.75,134.10 L199.00,134.42 L199.25,134.74 L199.50,135.06 L199.75,135.38 L200.00,135.70 L200.25,136.02 L200.50,136.33 L200.75,136.65 L201.00,136.97 L201.25,137.29 L201.50,137.60 L201.75,137.92 L202.00,138.24 L202.25,138.55 L202.50,138.87 L202.75,139.19 L203.00,139.50 L203.25,139.82 L203.50,140.14 L203.75,140.45 L204.00,140.77 L204.25,141.09 L204.50,141.40 L204.75,141.72 L205.00,142.04 L205.25,142.35 L205.50,142.67 L205.75,142.99 L206.00,143.30 L206.25,143.62 L206.50,143.93 L206.75,144.25 L207.00,144.57 L207.25,144.88 L207.50,145.20 L207.75,145.52 L208.00,145.84 L208.25,146.15 L208.50,146.47 L208.75,146.79 L209.00,147.10 L209.25,147.42 L209.50,147.74 L209.75,148.06 L210.00,148.38 L210.25,148.69 L210.50,149.01 L210.75,149.33 L211.00,149.65 L211.25,149.97 L211.50,150.29 L211.75,150.61 L212.00,150.93 L212.25,151.25 L212.50,151.57 L212.75,151.89 L213.00,152.21 L213.25,152.53 L213.50,152.85 L213.75,153.18 L214.00,153.50 L214.25,153.82 L214.50,154.14 L214.75,154.47 L215.00,154.79 L215.25,155.11 L215.50,155.44 L215.75,155.76 L216.00,156.09 L216.25,156.41 L216.50,156.74 L216.75,157.06 L217.00,157.39 L217.25,157.71 L217.50,158.04 L217.75,158.37 L218.00,158.69 L218.25,159.02 L218.50,159.35 L218.75,159.67 L219.00,160.00 L219.25,160.33 L219.50,160.65 L219.75,160.98 L220.00,161.31 L220.25,161.64 L220.50,161.97 L220.75,162.29 L221.00,162.62 L221.25,162.95 L221.50,163.28 L221.75,163.60 L222.00,163.93 L222.25,164.26 L222.50,164.59 L222.75,164.92 L223.00,165.25 L223.25,165.57 L223.50,165.90 L223.75,166.23 L224.00,166.56 L224.25,166.88 L224.50,167.21 L224.75,167.54 L225.00,167.87 L225.25,168.20 L225.50,168.52 L225.75,168.85 L226.00,169.18 L226.25,169.50 L226.50,169.83 L226.75,170.16 L227.00,170.48 L227.25,170.81 L227.50,171.14 L227.75,171.46 L228.00,171.79 L228.25,172.11 L228.50,172.44 L228.75,172.76 L229.00,173.09 L229.25,173.41 L229.50,173.74 L229.75,174.06 L230.00,174.39 L231.00,175.68 L232.00,176.96 L233.00,178.23 L234.00,179.53 L235.00,180.77 L236.00,182.09 L237.00,183.27 L238.00,184.55 L239.00,185.77 L240.00,186.97 L241.00,188.24 L242.00,189.41 L243.00,190.65 L244.00,191.79 L245.00,192.90 L246.00,194.12 L247.00,195.28 L248.00,196.49 L249.00,197.46 L250.00,198.64 L251.00,199.58 L252.00,200.88 L253.00,201.78 L254.00,202.75 L255.00,203.98 L256.00,205.13 L257.00,205.84 L258.00,206.88 L259.00,207.91 L260.00,208.82 L261.00,209.97 L262.00,210.75 L263.00,211.68 L264.00,212.78 L265.00,213.47 L266.00,214.53 L267.00,215.16 L268.00,215.97 L269.00,216.69 L270.00,218.14 L271.00,218.56 L272.00,219.45 L273.00,220.17 L274.00,220.96 L275.00,221.68 L276.00,222.78 L277.00,222.90 L278.00,223.48 L279.00,224.27 L280.00,224.86 L281.00,225.97 L282.00,226.63 L283.00,226.85 L284.00,227.35 L285.00,228.19 L286.00,229.20 L287.00,228.72 L288.00,230.11 L289.00,230.24 L290.00,231.31 L291.00,231.27 L292.00,231.98 L293.00,232.12 L294.00,232.74 L295.00,233.86 L296.00,234.15 L297.00,234.23 L298.00,234.51 L299.00,234.61 L300.00,235.46 L301.00,235.96 L302.00,236.32 L303.00,236.69 L304.00,236.71 L305.00,237.40 L306.00,237.75 L307.00,238.53 L308.00,239.05 L309.00,238.68 L310.00,238.76 L311.00,239.31 L312.00,239.41 L313.00,239.64 L314.00,240.16 L315.00,240.08 L316.00,240.92 L317.00,240.93 L318.00,241.30 L319.00,241.39 L320.00,241.44 L321.00,241.60 L322.00,242.07 L323.00,242.18 L324.00,242.67 L325.00,242.80 L326.00,242.53 L327.00,243.23 L328.00,242.93 L329.00,243.38 L330.00,243.68 L331.00,243.24 L332.00,244.17 L333.00,244.37 L334.00,244.43 L335.00,244.51 L336.00,244.69 L337.00,244.64 L338.00,245.04 L339.00,245.10 L340.00,245.47 L341.00,245.17 L342.00,245.82 L343.00,245.93 L344.00,245.97 L345.00,246.00 L346.00,246.48 L347.00,245.84 L348.00,246.71 L349.00,246.77 L350.00,246.91 L351.00,247.07 L352.00,246.83 L353.00,247.08 L354.00,247.52 L355.00,247.56 L356.00,247.60 L357.00,247.12 L358.00,247.95 L359.00,248.28 L360.00,248.34 L361.00,248.18 L362.00,247.67 L363.00,248.65 L364.00,248.38 L365.00,247.66 L366.00,248.79 L367.00,248.25 L368.00,248.43 L369.00,248.77 L370.00,249.55 L371.00,249.09 L372.00,249.43 L373.00,250.06 L374.00,250.12 L375.00,249.55" stroke="#3b9a68"/>
</g>
<rect x="62.7" y="7.3" width="311.70" height="251.30" fill="none" stroke="#222" stroke-width="1.4"/>
<path d="M62.70,258.60V263.10M62.70,7.30V11.80M75.17,258.60V260.80M75.17,7.30V9.50M87.64,258.60V260.80M87.64,7.30V9.50M100.10,258.60V260.80M100.10,7.30V9.50M112.57,258.60V260.80M112.57,7.30V9.50M125.04,258.60V263.10M125.04,7.30V11.80M137.51,258.60V260.80M137.51,7.30V9.50M149.98,258.60V260.80M149.98,7.30V9.50M162.44,258.60V260.80M162.44,7.30V9.50M174.91,258.60V260.80M174.91,7.30V9.50M187.38,258.60V263.10M187.38,7.30V11.80M199.85,258.60V260.80M199.85,7.30V9.50M212.32,258.60V260.80M212.32,7.30V9.50M224.78,258.60V260.80M224.78,7.30V9.50M237.25,258.60V260.80M237.25,7.30V9.50M249.72,258.60V263.10M249.72,7.30V11.80M262.19,258.60V260.80M262.19,7.30V9.50M274.66,258.60V260.80M274.66,7.30V9.50M287.12,258.60V260.80M287.12,7.30V9.50M299.59,258.60V260.80M299.59,7.30V9.50M312.06,258.60V263.10M312.06,7.30V11.80M324.53,258.60V260.80M324.53,7.30V9.50M337.00,258.60V260.80M337.00,7.30V9.50M349.46,258.60V260.80M349.46,7.30V9.50M361.93,258.60V260.80M361.93,7.30V9.50M374.40,258.60V263.10M374.40,7.30V11.80M62.70,253.70H58.20M374.40,253.70H369.90M62.70,229.06H60.50M374.40,229.06H372.20M62.70,204.42H58.20M374.40,204.42H369.90M62.70,179.78H60.50M374.40,179.78H372.20M62.70,155.14H58.20M374.40,155.14H369.90M62.70,130.50H60.50M374.40,130.50H372.20M62.70,105.86H58.20M374.40,105.86H369.90M62.70,81.22H60.50M374.40,81.22H372.20M62.70,56.58H58.20M374.40,56.58H369.90M62.70,31.94H60.50M374.40,31.94H372.20M62.70,7.30H58.20M374.40,7.30H369.90" stroke="#222" stroke-width="1.3" fill="none"/>
<text x="54.6" y="258.30" text-anchor="end" class="tl">0.0</text>
<text x="54.6" y="209.02" text-anchor="end" class="tl">0.2</text>
<text x="54.6" y="159.74" text-anchor="end" class="tl">0.4</text>
<text x="54.6" y="110.46" text-anchor="end" class="tl">0.6</text>
<text x="54.6" y="61.18" text-anchor="end" class="tl">0.8</text>
<text x="54.6" y="11.90" text-anchor="end" class="tl">1.0</text>
<text x="62.70" y="279.7" text-anchor="middle" class="tl">300</text>
<text x="125.04" y="279.7" text-anchor="middle" class="tl">400</text>
<text x="187.38" y="279.7" text-anchor="middle" class="tl">500</text>
<text x="249.72" y="279.7" text-anchor="middle" class="tl">600</text>
<text x="312.06" y="279.7" text-anchor="middle" class="tl">700</text>
<text x="374.40" y="279.7" text-anchor="middle" class="tl">800</text>
<text x="218.6" y="310.5" text-anchor="middle" class="at">Wavelength [nm]</text>
<text transform="translate(16.0,240.20) rotate(-90)" class="at" style="font-size:21.65px">Absorbance</text>
<text transform="translate(16.0,33.10) rotate(-90)" text-anchor="end" class="at" style="font-size:21.05px">[arb. u.]</text>
<text x="116.8" y="42.9" class="an">421 nm</text>
<text x="119" y="165.9" class="an">424 nm</text>
<text x="243.5" y="26.2" class="lg">After 11 days</text>
<text x="243.5" y="46.9" class="lg">Temperature</text>
<path d="M242,63.90H281" stroke="#383838" stroke-width="1.85"/>
<text x="284.2" y="69.2" class="lg">S1C (23</text>
<text x="343.4" y="63.10" class="sup">0</text>
<text x="349.4" y="69.2" class="lg">C)</text>
<path d="M242,87.00H281" stroke="#d63a44" stroke-width="1.85"/>
<text x="284.2" y="92.5" class="lg">S2C (40</text>
<text x="343.4" y="86.40" class="sup">0</text>
<text x="349.4" y="92.5" class="lg">C)</text>
<path d="M242,108.40H281" stroke="#2a5fc2" stroke-width="1.85"/>
<text x="284.2" y="114.2" class="lg">S3C (60</text>
<text x="343.4" y="108.10" class="sup">0</text>
<text x="349.4" y="114.2" class="lg">C)</text>
<path d="M242,130.90H281" stroke="#3b9a68" stroke-width="1.85"/>
<text x="284.2" y="136.3" class="lg">S4C (75</text>
<text x="343.4" y="130.20" class="sup">0</text>
<text x="349.4" y="136.3" class="lg">C)</text>
</svg>
</body></html>
